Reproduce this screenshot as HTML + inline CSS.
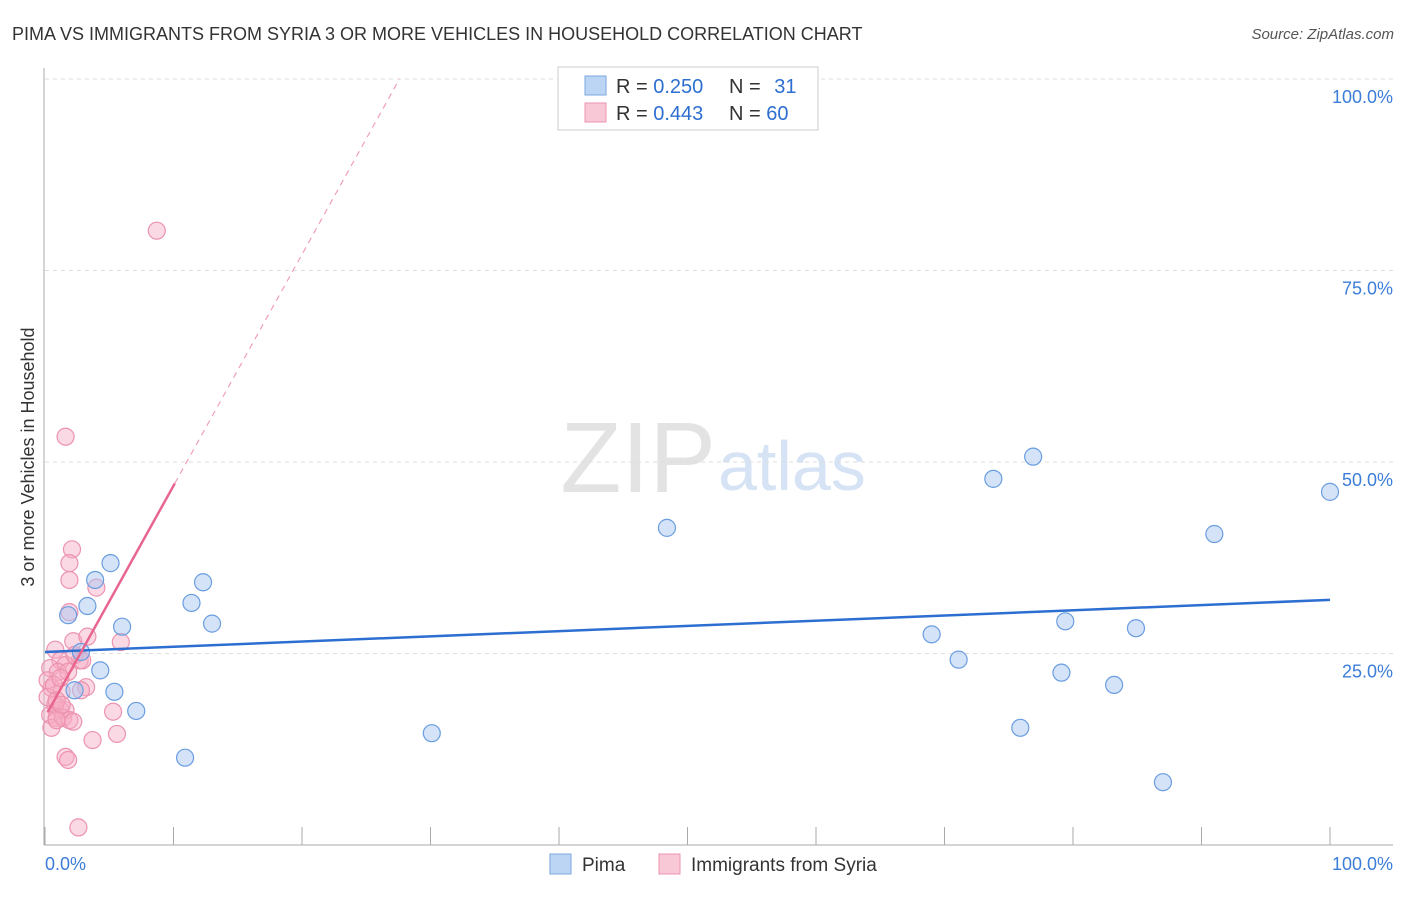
<!DOCTYPE html>
<html><head><meta charset="utf-8"><style>
body{margin:0;background:#fff;font-family:"Liberation Sans",sans-serif}
svg text{font-family:"Liberation Sans",sans-serif}
</style></head><body>
<svg id="chart" width="1406" height="892">
<text x="12" y="40" font-size="18" fill="#333">PIMA VS IMMIGRANTS FROM SYRIA 3 OR MORE VEHICLES IN HOUSEHOLD CORRELATION CHART</text>
<text x="1394" y="39" font-size="15" fill="#555" font-style="italic" text-anchor="end">Source: ZipAtlas.com</text>
<text x="716" y="492" font-size="100" fill="#e3e3e3" text-anchor="end" font-family="Liberation Serif">ZIP</text>
<text x="718" y="490" font-size="70" fill="#d6e3f5">atlas</text>
<text transform="translate(34,457) rotate(-90)" font-size="18" fill="#333" text-anchor="middle">3 or more Vehicles in Household</text>
<g id="grid"></g><g id="marks"></g>
<g>
<rect x="558" y="67" width="260" height="63" fill="#fff" stroke="#ccc"/>
<rect x="585" y="76" width="21" height="19" fill="#bcd5f5" stroke="#7aa7e0"/>
<rect x="585" y="103" width="21" height="19" fill="#f9c8d6" stroke="#ec93af"/>
<text x="616" y="93" font-size="20" fill="#333">R = <tspan fill="#2d6fd1">0.250</tspan></text>
<text x="729" y="93" font-size="20" fill="#333">N = <tspan fill="#2d6fd1" dx="8">31</tspan></text>
<text x="616" y="120" font-size="20" fill="#333">R = <tspan fill="#2d6fd1">0.443</tspan></text>
<text x="729" y="120" font-size="20" fill="#333">N = <tspan fill="#2d6fd1">60</tspan></text>
</g>
<g>
<rect x="550" y="854" width="21" height="20" fill="#bcd5f5" stroke="#7aa7e0"/>
<text x="582" y="871" font-size="19" fill="#333">Pima</text>
<rect x="659" y="854" width="21" height="20" fill="#f9c8d6" stroke="#ec93af"/>
<text x="691" y="871" font-size="19" fill="#333">Immigrants from Syria</text>
</g>
</svg>
<script>
const yTicks=[25,50,75,100];
const yTickLabels=["25.0%","50.0%","75.0%","100.0%"];
const pimaX=[3.9,5.1,3.3,1.8,6.0,2.8,4.3,5.4,2.3,7.1,11.4,12.3,13.0,10.9,30.1,48.4,69.0,71.1,73.8,76.9,75.9,79.4,79.1,83.2,84.9,87.0,91.0,100];
const pimaY=[34.6,36.8,31.2,30.0,28.5,25.2,22.8,20.0,20.2,17.5,31.6,34.3,28.9,11.4,14.6,41.4,27.5,24.2,47.8,50.7,15.3,29.2,22.5,20.9,28.3,8.2,40.6,46.1];
const syriaX=[8.7,1.6,2.1,1.9,1.9,4.0,1.9,2.2,3.3,5.9,2.7,0.8,1.2,1.6,0.4,1.0,1.8,0.5,1.3,0.2,0.8,1.2,1.6,0.4,0.9,1.4,1.9,0.5,2.2,3.2,2.8,5.3,5.6,3.7,1.6,1.8,2.6,0.2,0.9,1.3,0.7,1.2,2.3,2.9,0.9];
const syriaY=[80.2,53.3,38.6,36.8,34.6,33.6,30.4,26.6,27.2,26.5,24.1,25.5,24.1,23.5,23.1,22.6,22.6,20.5,20.0,19.3,18.3,17.6,17.6,17.0,16.6,16.6,16.3,15.3,16.1,20.6,20.2,17.4,14.5,13.7,11.5,11.1,2.3,21.5,18.9,18.3,20.9,21.8,24.8,24.1,16.3];
const pimaTrend=[25.2,32.0];
const syriaTrend=[16.7,3.02];
const X0=45,X1=1330,Y0=845,Y100=79;
const sx=v=>X0+(X1-X0)*v/100, sy=v=>Y0-(Y0-Y100)*v/100;
const NS="http://www.w3.org/2000/svg";
function mk(t,a,p){const e=document.createElementNS(NS,t);for(const k in a)e.setAttribute(k,a[k]);p.appendChild(e);return e;}
const g=document.getElementById('grid'),m=document.getElementById('marks');
yTicks.forEach((t,i)=>{
 const l=mk('line',{x1:45,x2:1393,y1:sy(t),y2:sy(t),stroke:'#ddd','stroke-dasharray':'4,4'},g);
 
 
 const tx=mk('text',{x:1393,y:sy(t)+24,'font-size':18,fill:'#3b7dd8','text-anchor':'end'},g);tx.textContent=yTickLabels[i];
 
 
});
mk('line',{x1:44,x2:44,y1:68,y2:845,stroke:'#aaa'},g);
mk('line',{x1:44,x2:1393,y1:845,y2:845,stroke:'#aaa'},g);
for(let i=0;i<=10;i++){mk('line',{x1:sx(i*10),x2:sx(i*10),y1:827,y2:845,stroke:'#aaa'},g);}
let t0=mk('text',{x:45,y:870,'font-size':18,fill:'#3b7dd8'},g);t0.textContent='0.0%';


let t1=mk('text',{x:1393,y:870,'font-size':18,fill:'#3b7dd8','text-anchor':'end'},g);t1.textContent='100.0%';


syriaX.forEach((x,i)=>{const c=mk('circle',{cx:sx(x),cy:sy(syriaY[i]),r:8.5,fill:'rgba(246,170,195,0.45)',stroke:'#ec93af','stroke-width':1.2},m);
 
 });
pimaX.forEach((x,i)=>{const c=mk('circle',{cx:sx(x),cy:sy(pimaY[i]),r:8.5,fill:'rgba(170,200,240,0.5)',stroke:'#6a9de0','stroke-width':1.2},m);
 
 });
const bl=mk('line',{x1:sx(0),y1:sy(pimaTrend[0]),x2:sx(100),y2:sy(pimaTrend[1]),stroke:'#2d6fd1','stroke-width':2.5},m);


const xe=10.1,xd=(100-syriaTrend[0])/syriaTrend[1];
const pl=mk('line',{x1:sx(0.2),y1:sy(syriaTrend[0]+syriaTrend[1]*0.2),x2:sx(xe),y2:sy(syriaTrend[0]+syriaTrend[1]*xe),stroke:'#e8658f','stroke-width':2.5},m);


const pd=mk('line',{x1:sx(xe),y1:sy(syriaTrend[0]+syriaTrend[1]*xe),x2:sx(xd),y2:sy(100),stroke:'#f0a0b8','stroke-width':1.2,'stroke-dasharray':'6,5'},m);


</script>
</body></html>
